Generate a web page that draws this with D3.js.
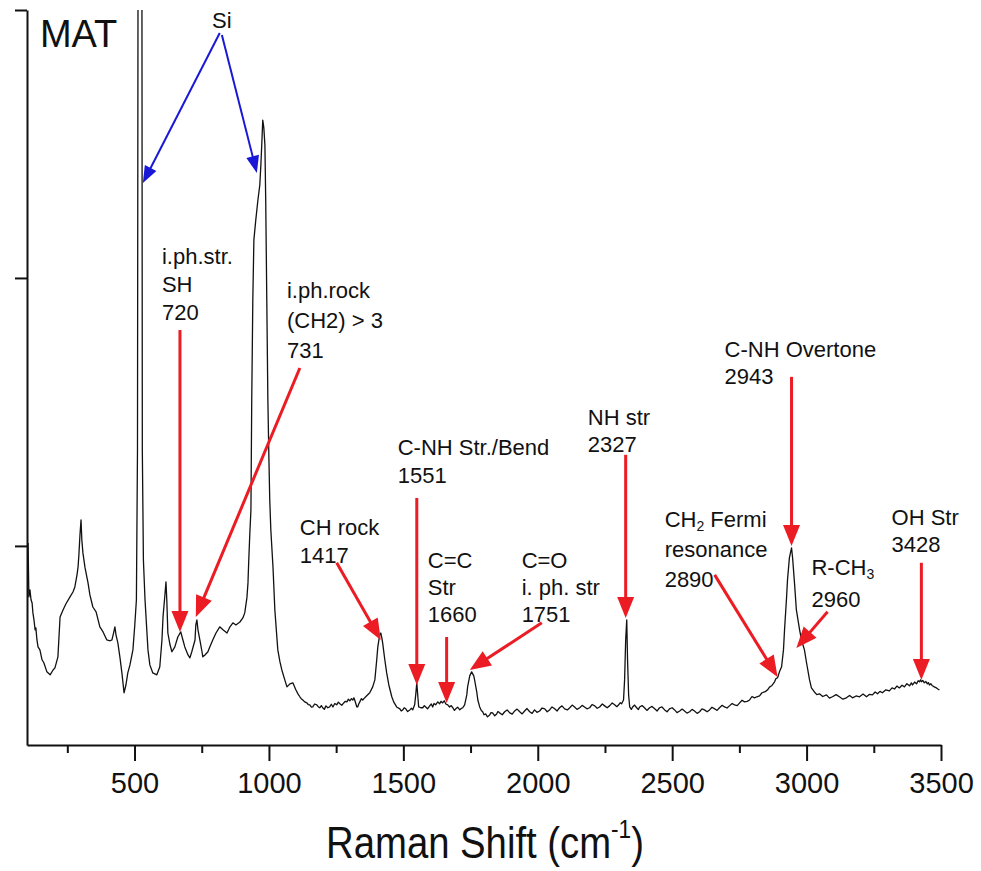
<!DOCTYPE html>
<html>
<head>
<meta charset="utf-8">
<script src="https://cdn.jsdelivr.net/npm/d3@7"></script>
<style>
  body { margin: 0; background: #fff; }
  text { font-family: "Liberation Sans", Arial, sans-serif; fill: #111; }
</style>
</head>
<body>
<svg id="chart"></svg>
<script>
// Raman spectrum (cm-1, counts)
const shift = [
    104,107,111,115,119,122,126,130,133,137,141,148,156,163,174,186,197,204,215,223,234,245,260,271,278,286,290,293,297,301,304,308,316,327,334,345,357,371,383,397,409,416,423,427,431,438,446,453,461,468,475,483,494,501,507,511,515,526,529,533,539,550,557,568,583,594,602,606,613,617,620,624,632,639,650,661,672,680,687,699,706,713,725,728,732,736,743,751,754,762,773,780,791,803,817,829,844,855,866,877,892,903,910,918,922,925,929,933,936,940,944,951,959,966,970,974,977,981,985,988,992,996,1000,1003,1007,1015,1022,1033,1041,1048,1059,1067,1078,1089,
    1100,1108,1115,1120,1126,1133,1141,1146,1152,1158,1163,1170,1178,1184,1189,1195,1200,1206,1212,1219,1226,1232,1238,1245,1252,1258,1264,1271,1278,1284,1290,1295,1301,1307,1312,1316,1319,1327,1330,1334,1338,1344,1349,1355,1360,
    1375,1386,1394,1401,1405,1412,1416,1420,1423,1431,1438,1446,1457,1464,1475,1487,1492,1498,1503,1509,1516,1524,1530,1535,1542,1546,1550,1554,1557,
    1565,1572,1578,1583,1590,1598,1604,1609,1614,1620,1628,1635,1640,1646,1652,1658,1665,1672,1678,1684,1690,1695,1702,1710,1716,1721,1728,1736,1739,1747,1754,1762,1765,1773,1777,1784,
    1790,1795,1800,1806,1813,1821,1826,1832,1840,1847,1852,1858,1868,1877,1886,1896,1905,1914,1923,1933,1942,1951,1960,1970,1979,1988,1997,2007,2016,2026,2035,2044,2053,2063,2072,2081,2090,2100,2110,2119,2128,2137,2146,2156,2165,2174,2183,2193,2202,2212,2221,2230,2240,2249,2258,2267,2277,2286,2294,2301,2307,2312,
    2319,2323,2327,2331,2334,2338,
    2342,2348,2353,2360,2368,2374,2379,2388,2397,2406,2416,2425,2435,2444,2453,2462,2472,2481,2490,2500,2509,2518,2528,2537,2546,2555,2565,2574,2583,2593,2602,2611,2620,2630,2639,2648,2658,2667,2676,2686,2695,2704,2713,2723,2732,2742,2751,2760,2769,2779,2788,2797,2806,2815,2825,2834,2844,2850,2855,2862,2870,2876,2881,2886,2892,
    2899,2907,2914,2918,2925,2929,2936,2944,2948,2955,2962,2974,2981,2992,3000,3011,3018,
    3029,3038,3048,3060,3074,3085,3096,3110,3122,3135,3148,3160,3171,3184,3197,3210,3223,3234,3245,3255,3264,3273,3282,3295,3308,3318,3327,3336,3345,3355,3364,3373,3383,3390,3394,3402,3409,3415,3420,3424,3427,3432,3438,3444,3449,3453,3457,3462,3468,3475,3483,3488,3494
];
const intensity = [
    1011,810,836,799,787,750,724,687,694,649,623,612,575,563,530,519,537,545,586,735,761,784,810,828,847,892,922,966,1041,1097,1022,974,918,862,817,772,754,698,679,649,646,649,679,698,668,638,582,526,452,481,526,556,612,705,799,1358,4903,4903,1358,948,799,612,556,526,519,549,649,735,817,866,799,675,631,605,623,660,679,649,623,593,582,605,649,705,724,687,649,605,586,593,605,623,649,675,698,687,675,698,713,705,716,731,750,806,862,948,1049,1134,1545,1918,2142,2216,2291,2347,2422,2515,2589,2560,2496,2291,1918,1545,1321,1172,1060,922,761,612,567,537,500,474,485,489,
    463,448,437,430,425,418,414,408,407,398,399,410,407,399,396,404,396,390,403,396,399,409,399,412,407,417,411,405,414,420,418,428,422,430,425,433,425,399,399,410,418,430,425,432,437,
    452,474,500,575,623,668,675,657,638,575,526,481,437,418,399,392,384,388,396,392,382,388,394,388,407,444,489,437,399,
    396,396,404,399,392,403,410,399,412,407,418,411,420,414,422,410,407,399,404,396,386,392,398,388,394,396,407,444,474,515,530,515,500,455,425,399,
    386,381,370,373,362,369,378,377,366,373,382,377,370,381,388,377,372,384,391,381,373,384,393,381,375,388,379,384,395,392,381,388,399,392,384,396,403,392,388,396,406,399,390,396,405,399,392,396,408,403,394,399,410,403,396,403,414,407,400,407,415,411,
    425,500,649,724,575,444,
    399,390,399,406,396,389,399,404,396,386,396,401,392,384,396,399,388,381,392,396,388,378,384,391,384,376,381,390,384,375,381,392,388,381,388,398,392,386,396,405,399,395,403,412,407,404,414,424,418,420,425,438,433,437,440,452,455,459,463,473,478,486,493,505,508,
    530,549,612,687,799,873,955,993,955,862,761,687,649,612,563,500,470,
    455,445,448,438,444,432,437,445,437,428,433,442,433,440,437,447,437,446,444,455,448,457,452,463,459,470,466,477,470,480,474,486,478,489,481,492,485,497,493,500,493,498,489,494,485,490,481,486,478,474,470,466,463
];

const xTicks = [500, 1000, 1500, 2000, 2500, 3000, 3500];
const xMinorTicks = [250, 750, 1250, 1750, 2250, 2750, 3250];
const yTicks = [1000, 2000, 3000];

// peak annotations
const peakText = [
    ["i.ph.str.", "SH", "720"],
    ["i.ph.rock", "(CH2) > 3", "731"],
    ["CH rock", "1417"],
    ["C-NH Str./Bend", "1551"],
    ["C=C", "Str", "1660"],
    ["C=O", "i. ph. str", "1751"],
    ["NH str", "2327"],
    ["C-NH Overtone", "2943"],
    ["CH_2 Fermi", "resonance", "2890"],
    ["R-CH_3", "2960"],
    ["OH Str", "3428"]
];
const textAt = [[602, 2052], [1067, 1925], [1115, 1041], [1479, 1340], [1591, 918], [1940, 918],
    [2186, 1451], [2695, 1705], [2472, 1071], [3018, 892], [3316, 1078]];
const arrowFrom = [[669, 1806], [1115, 1664], [1252, 937], [1550, 1179], [1661, 660], [2015, 713],
    [2327, 1340], [2944, 1631], [2658, 892], [3078, 754], [3427, 937]];
const arrowTo = [[669, 679], [728, 735], [1416, 649], [1550, 481], [1661, 414], [1747, 537],
    [2327, 731], [2944, 1000], [2892, 511], [2962, 619], [3427, 500]];
const lineGap = [28, 30, 28, 28, 27, 27, 27, 27, 30, 32, 27];

const siText = "Si";
const siAt = [825, 2933];
const siFrom = [[817, 2914], [825, 2907]];
const siTo = [[531, 2354], [955, 2392]];

const sampleName = "MAT";
const sampleAt = [148, 2862];

document.addEventListener("DOMContentLoaded", drawChart);

function drawChart() {
    const width = 981;
    const height = 871;

    const svg = d3.select("svg#chart")
        .attr("width", width)
        .attr("height", height);

    const x = d3.scaleLinear().domain([100, 3500]).range([27, 941]);
    const y = d3.scaleLinear().domain([257, 3000]).range([745, 10]);

    svg.append("clipPath")
        .attr("id", "plotClip")
        .append("rect")
        .attr("x", 27)
        .attr("y", 10)
        .attr("width", 914)
        .attr("height", 735);

    // spectrum
    const points = shift.map((s, i) => [s, intensity[i]]);
    const line = d3.line()
        .x(d => x(d[0]))
        .y(d => y(d[1]));

    svg.append("path")
        .datum(points)
        .attr("clip-path", "url(#plotClip)")
        .attr("fill", "none")
        .attr("stroke", "#111")
        .attr("stroke-width", 1.3)
        .attr("stroke-linejoin", "round")
        .attr("d", line);

    // axes
    const xAxis = svg.append("g")
        .attr("transform", "translate(0,745)")
        .call(d3.axisBottom(x).tickValues(xTicks).tickFormat(d3.format("d"))
            .tickSize(16).tickPadding(11).tickSizeOuter(0));
    xAxis.selectAll("text")
        .attr("font-size", 29)
        .attr("font-family", "Liberation Sans, Arial, sans-serif")
        .attr("fill", "#111");

    const xMinor = svg.append("g")
        .attr("transform", "translate(0,745)")
        .call(d3.axisBottom(x).tickValues(xMinorTicks).tickSize(8).tickFormat(""));
    xMinor.select(".domain").remove();

    svg.append("g")
        .attr("transform", "translate(27,0)")
        .call(d3.axisLeft(y).tickValues(yTicks).tickSize(12).tickFormat("").tickSizeOuter(0));

    svg.selectAll(".domain, .tick line")
        .attr("stroke", "#111")
        .attr("stroke-width", 2);

    // axis title, a little condensed like the original
    const title = svg.append("g")
        .attr("transform", "translate(485,858) scale(0.87,1)")
        .append("text")
        .attr("text-anchor", "middle")
        .attr("font-size", 44);
    title.append("tspan").text("Raman Shift (cm");
    title.append("tspan").attr("font-size", 26).attr("dy", -20).text("-1");
    title.append("tspan").attr("dy", 20).text(")");

    // sample name
    svg.append("text")
        .attr("x", x(sampleAt[0]))
        .attr("y", y(sampleAt[1]))
        .attr("font-size", 38)
        .text(sampleName);

    // Si arrows
    svg.append("text")
        .attr("x", x(siAt[0]))
        .attr("y", y(siAt[1]))
        .attr("text-anchor", "middle")
        .attr("font-size", 22)
        .text(siText);
    siFrom.forEach((from, i) => drawArrow(svg, from, siTo[i], "#1818d6", 2, 17, 6.5));

    // peak labels and arrows
    peakText.forEach((lines, i) => {
        const t = svg.append("text")
            .attr("font-size", 22);
        lines.forEach((str, j) => {
            const row = t.append("tspan")
                .attr("x", x(textAt[i][0]))
                .attr("y", y(textAt[i][1]) + j * lineGap[i]);
            const parts = str.split(/_(\d)/);
            parts.forEach((p, k) => {
                if (k % 2 === 1) {
                    row.append("tspan")
                        .attr("font-size", 14)
                        .attr("baseline-shift", "-30%")
                        .text(p);
                } else if (p.length) {
                    row.append("tspan").text(p);
                }
            });
        });
        drawArrow(svg, arrowFrom[i], arrowTo[i], "#ec1c24", 3, 21, 8.5);
    });

    function drawArrow(g, from, to, color, w, headLen, headHalf) {
        const x1 = x(from[0]), y1 = y(from[1]);
        const x2 = x(to[0]), y2 = y(to[1]);
        const len = Math.hypot(x2 - x1, y2 - y1);
        const ux = (x2 - x1) / len, uy = (y2 - y1) / len;
        const bx = x2 - ux * headLen, by = y2 - uy * headLen;

        g.append("line")
            .attr("x1", x1)
            .attr("y1", y1)
            .attr("x2", bx + ux * 2)
            .attr("y2", by + uy * 2)
            .attr("stroke", color)
            .attr("stroke-width", w);

        g.append("polygon")
            .attr("points", [
                [x2, y2],
                [bx - uy * headHalf, by + ux * headHalf],
                [bx + uy * headHalf, by - ux * headHalf]
            ].map(p => p.join(",")).join(" "))
            .attr("fill", color);
    }
}
</script>
</body>
</html>
